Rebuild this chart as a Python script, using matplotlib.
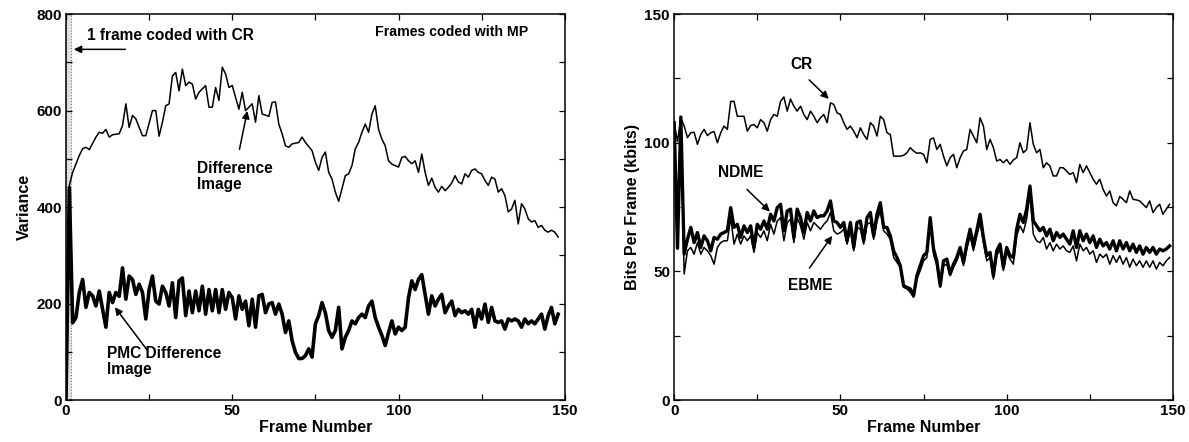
import numpy as np
import matplotlib.pyplot as plt
from matplotlib.ticker import MultipleLocator

plt.rcParams['font.family'] = ['Liberation Sans', 'DejaVu Sans']
plt.rcParams['font.weight'] = 'bold'
plt.rcParams['axes.labelweight'] = 'bold'
plt.rcParams['font.size'] = 11

# --- left panel: variance of difference images ---
diff_frames = [0, 1, 2, 4, 5, 6, 7, 9, 10, 11, 12, 13, 14, 16, 17, 18, 19, 20, 21, 23,
               24, 26, 27, 28, 29, 30, 31, 32, 33, 34, 35, 36, 37, 38, 39, 40, 42, 43, 44, 45,
               46, 47, 48, 49, 50, 52, 53, 54, 55, 56, 57, 58, 59, 61, 62, 63, 64, 65, 66, 67,
               68, 70, 71, 72, 74, 75, 76, 77, 78, 79, 80, 81, 82, 83, 84, 85, 86, 87, 88, 89,
               90, 91, 92, 93, 94, 95, 96, 97, 98, 100, 101, 102, 103, 104, 105, 106, 107, 108, 109, 110,
               111, 112, 113, 114, 115, 116, 117, 118, 119, 120, 121, 122, 123, 124, 125, 126, 127, 128, 129, 130,
               131, 132, 133, 134, 135, 136, 137, 138, 139, 140, 141, 142, 143, 144, 145, 146, 147, 148]
diff_var = [0, 445, 472, 507, 521, 524, 519, 545, 555, 553, 561, 545, 550, 552, 569, 614, 565, 590, 583, 548,
            548, 600, 600, 547, 576, 610, 614, 672, 679, 641, 686, 652, 659, 655, 624, 638, 652, 607, 607, 648,
            621, 690, 676, 648, 652, 603, 638, 600, 607, 614, 576, 631, 593, 588, 617, 618, 572, 552, 527, 524,
            531, 534, 545, 534, 517, 493, 476, 503, 514, 472, 458, 431, 412, 438, 465, 469, 486, 521, 534, 555,
            572, 555, 593, 610, 561, 541, 527, 496, 489, 483, 503, 505, 496, 490, 496, 472, 510, 472, 445, 460,
            441, 431, 443, 434, 441, 450, 465, 452, 448, 469, 462, 476, 479, 472, 469, 455, 445, 462, 458, 431,
            438, 424, 390, 396, 414, 365, 407, 396, 376, 369, 372, 358, 362, 352, 348, 352, 348, 338]

pmc_var = [0, 440, 160, 171, 223, 250, 192, 223, 216, 195, 226, 188, 151, 223, 202, 223, 215, 274, 209, 257,
           250, 219, 240, 223, 168, 229, 257, 205, 199, 236, 223, 195, 243, 171, 247, 253, 175, 226, 181, 226,
           185, 236, 178, 229, 185, 229, 181, 229, 188, 223, 212, 168, 216, 188, 205, 154, 209, 151, 216, 219,
           181, 199, 202, 178, 199, 178, 140, 164, 123, 99, 86, 86, 92, 106, 89, 158, 175, 202, 181, 144,
           130, 144, 192, 106, 130, 144, 164, 158, 171, 178, 171, 195, 205, 171, 151, 134, 113, 140, 164, 137,
           151, 144, 151, 212, 247, 229, 250, 260, 219, 178, 216, 195, 209, 219, 181, 195, 205, 175, 188, 181,
           185, 178, 188, 151, 188, 168, 199, 161, 192, 164, 161, 164, 147, 168, 164, 168, 164, 151, 168, 158,
           164, 158, 168, 178, 147, 175, 192, 158, 178]

# --- right panel: bits per frame (kbits) ---
cr_kbits = [107.8, 100.5, 109.7,
            106.5, 102, 103.9, 104.1, 99.4, 103.2, 105.2, 102.8, 103.9, 104.4,
            100, 103.9, 106.5, 105.2, 116.1, 116.1, 110.3, 110.3, 110.3, 104.5,
            106.7, 107.1, 105.8, 109, 107.8, 104.5, 109, 111, 110.3, 116.1,
            117.8, 112.3, 117, 114.2, 112.3, 114.2, 111, 109, 112.3, 110.3,
            107.8, 109.7, 111, 107.8, 115.5, 114.9, 111.6, 111, 107.8, 105.2,
            106.5, 104.5, 102, 105.8, 103.2, 101.3, 107.8, 106.5, 102.6, 110.3,
            109, 103.9, 103.2, 94.8, 94.8, 94.8, 95.1, 96.1, 98.1, 96.8,
            95.9, 96.1, 95.5, 92.2, 101.3, 101.9, 97.4, 99.4, 94.8, 91,
            94.2, 95.5, 90.3, 94.2, 96.8, 97.4, 105.2, 102.6, 100, 109.7,
            106.5, 97.4, 101.3, 98.1, 92.9, 93.5, 92.2, 93.5, 91.6, 93.3,
            94.2, 100, 96.1, 97.4, 107.8, 99.4, 96.1, 97.4, 90.3, 92.2,
            91, 87.1, 87.1, 90.3, 90.3, 89, 87.7, 88.4, 84.5, 91.6,
            88.4, 91, 88.4, 85.8, 83.9, 85.8, 81.9, 79.3, 81.3, 76.7,
            75.5, 79.1, 78, 76.7, 81.3, 78, 77.8, 77.4, 76.1, 74.8,
            77.4, 72.9, 74.8, 76.1, 72.2, 74.2, 76.1]

ndme_kbits = [107.8, 59, 110,
              56.7, 62.5, 67.1, 61.2, 65.1, 59.3, 63.8, 61.9, 58.0, 63.2,
              62.5, 64.5, 65.1, 65.8, 74.8, 67.1, 68.3, 63.2, 67.7, 65.1,
              67.7, 59.3, 68.3, 66.4, 69.6, 66.4, 72.2, 69.6, 74.8, 76.1,
              65.8, 73.5, 74.2, 63.2, 74.2, 70.9, 65.1, 72.9, 69.6, 73.5,
              70.9, 71.6, 71.6, 73.5, 77.4, 69.6, 69.0, 67.1, 69.0, 61.9,
              69.0, 59.3, 69.0, 69.6, 61.9, 70.9, 72.9, 63.8, 72.2, 76.7,
              67.1, 67.1, 63.8, 58.0, 55.4, 52.2, 44.4, 43.8, 43.2, 40.6,
              48.3, 52.2, 56.1, 57.4, 70.9, 58.7, 54.1, 44.4, 54.1, 54.8,
              49.0, 52.8, 55.4, 59.3, 53.5, 60.6, 66.4, 59.9, 65.8, 72.2,
              63.2, 56.1, 57.4, 48.3, 58.0, 60.6, 51.6, 59.3, 56.1, 55.4,
              66.4, 72.2, 69.0, 74.2, 83.2, 69.7, 67.7, 65.8, 67.1, 63.8,
              66.4, 61.9, 65.1, 63.2, 64.5, 62.5, 60.6, 65.8, 59.3, 65.8,
              61.9, 64.5, 61.2, 63.8, 59.3, 62.5, 59.9, 61.2, 58.7, 61.9,
              58.0, 61.9, 58.7, 61.2, 58.0, 60.6, 57.4, 59.9, 56.7, 59.3,
              57.4, 59.3, 56.7, 58.7, 58.0, 58.7, 59.9]

ebme_kbits = [107.8, 59, 110,
              49.0, 58.0, 59.3, 56.7, 61.2, 56.7, 59.3, 58.0, 56.1, 52.8,
              59.3, 61.2, 61.9, 61.9, 70.9, 60.6, 64.5, 60.6, 63.8, 61.9,
              63.8, 57.4, 65.1, 63.2, 65.8, 61.9, 68.3, 64.5, 69.6, 70.9,
              61.9, 69.0, 70.3, 61.2, 70.9, 67.7, 62.5, 69.0, 65.8, 69.0,
              67.7, 66.4, 68.3, 69.6, 72.9, 65.8, 64.5, 65.1, 66.4, 60.6,
              66.4, 58.0, 67.1, 66.4, 60.6, 68.3, 69.0, 62.5, 69.6, 73.5,
              65.8, 64.5, 62.5, 55.4, 53.5, 51.6, 43.8, 43.2, 41.9, 39.9,
              47.0, 50.3, 54.1, 55.4, 69.0, 56.7, 52.2, 43.8, 52.2, 52.8,
              48.3, 51.6, 54.1, 58.0, 52.2, 58.7, 63.8, 58.0, 63.8, 69.0,
              61.2, 54.1, 55.4, 47.0, 56.1, 58.7, 50.3, 57.4, 54.8, 52.8,
              63.8, 67.7, 65.1, 70.3, 80.0, 64.5, 61.9, 61.2, 63.2, 58.7,
              61.2, 58.0, 60.6, 58.7, 59.9, 58.0, 57.4, 59.9, 54.1, 60.6,
              58.0, 59.3, 56.7, 58.0, 53.5, 56.7, 55.4, 56.7, 52.8, 56.1,
              53.5, 56.1, 52.8, 55.4, 51.6, 54.8, 52.2, 54.1, 51.6, 54.1,
              51.6, 54.1, 50.9, 53.5, 52.2, 54.1, 55.4]

fig = plt.figure(figsize=(11.89, 4.42), dpi=100)
ax1 = fig.add_axes([0.0555, 0.095, 0.4195, 0.873])
ax2 = fig.add_axes([0.567, 0.095, 0.4195, 0.873])


def style_axis(ax, xmaj, xmin, ymaj, ymin):
    ax.xaxis.set_major_locator(MultipleLocator(xmaj))
    ax.xaxis.set_minor_locator(MultipleLocator(xmin))
    ax.yaxis.set_major_locator(MultipleLocator(ymaj))
    ax.yaxis.set_minor_locator(MultipleLocator(ymin))
    ax.tick_params(which='both', direction='in', top=True, right=True,
                   length=4, width=0.9, labelsize=11, pad=3)
    for s in ax.spines.values():
        s.set_linewidth(1.1)


arrow = dict(arrowstyle='-|>', color='black', lw=1.1, mutation_scale=11)

# left
ax1.axvspan(0, 1.5, facecolor='0.88', edgecolor='0.45', lw=0.8, ls=':')
ax1.plot(diff_frames, diff_var, color='black', lw=1.1)
ax1.plot(np.arange(len(pmc_var)), pmc_var, color='black', lw=2.6)
ax1.set_xlim(0, 150)
ax1.set_ylim(0, 800)
style_axis(ax1, 50, 25, 200, 100)
ax1.set_xlabel('Frame Number', fontsize=11.5, labelpad=1)
ax1.set_ylabel('Variance', fontsize=11.5, labelpad=3)

ax1.text(6.3, 756, '1 frame coded with CR', fontsize=11.2, va='center')
ax1.annotate('', xy=(1.5, 727), xytext=(18.7, 727), arrowprops=arrow)
ax1.text(93, 763, 'Frames coded with MP', fontsize=10.2, va='center')
ax1.text(39.3, 495, 'Difference\nImage', fontsize=11.2, va='top', linespacing=1.1)
ax1.annotate('', xy=(54.7, 605), xytext=(52, 514), arrowprops=arrow)
ax1.text(12.4, 112, 'PMC Difference\nImage', fontsize=11.2, va='top', linespacing=1.1)
ax1.annotate('', xy=(14.2, 197), xytext=(24.8, 100), arrowprops=arrow)

# right
ax2.plot(np.arange(len(cr_kbits)), cr_kbits, color='black', lw=1.1)
ax2.plot(np.arange(len(ebme_kbits)), ebme_kbits, color='black', lw=1.1)
ax2.plot(np.arange(len(ndme_kbits)), ndme_kbits, color='black', lw=2.4)
ax2.set_xlim(0, 150)
ax2.set_ylim(0, 150)
style_axis(ax2, 50, 25, 50, 25)
ax2.set_xlabel('Frame Number', fontsize=11.5, labelpad=1)
ax2.set_ylabel('Bits Per Frame (kbits)', fontsize=11.5, labelpad=3)

ax2.text(34.8, 130.6, 'CR', fontsize=11.2, va='center')
ax2.annotate('', xy=(47.1, 116.3), xytext=(40, 125.2), arrowprops=arrow)
ax2.text(13.2, 88.4, 'NDME', fontsize=11.2, va='center')
ax2.annotate('', xy=(29.4, 72.5), xytext=(21.3, 82.6), arrowprops=arrow)
ax2.text(34.2, 44.6, 'EBME', fontsize=11.2, va='center')
ax2.annotate('', xy=(48, 64.7), xytext=(40.2, 50.4), arrowprops=arrow)

fig.savefig('out.png', dpi=100)
